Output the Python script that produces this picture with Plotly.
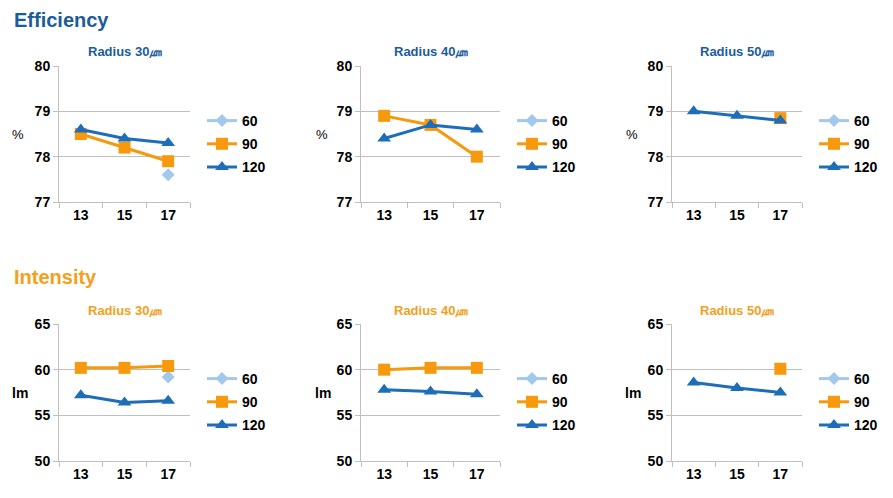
import plotly.graph_objects as go

# ---- data ----
categories = ["13", "15", "17"]
series_names = ["60", "90", "120"]
radius_labels = ["Radius 30㎛", "Radius 40㎛", "Radius 50㎛"]

eff_r30_60 = [None, None, 77.6]
eff_r30_90 = [78.5, 78.2, 77.9]
eff_r30_120 = [78.6, 78.4, 78.3]

eff_r40_60 = [None, None, None]
eff_r40_90 = [78.9, 78.7, 78.0]
eff_r40_120 = [78.4, 78.7, 78.6]

eff_r50_60 = [None, None, None]
eff_r50_90 = [None, None, 78.85]
eff_r50_120 = [79.0, 78.9, 78.8]

int_r30_60 = [None, None, 59.2]
int_r30_90 = [60.2, 60.2, 60.4]
int_r30_120 = [57.2, 56.4, 56.6]

int_r40_60 = [None, None, None]
int_r40_90 = [60.0, 60.2, 60.2]
int_r40_120 = [57.8, 57.6, 57.3]

int_r50_60 = [None, None, None]
int_r50_90 = [None, None, 60.1]
int_r50_120 = [58.6, 58.0, 57.5]

eff_ticks = [77, 78, 79, 80]
int_ticks = [50, 55, 60, 65]

# ---- styling ----
W, H = 893, 498
C60, C90, C120 = "#A3C8EE", "#F7990C", "#1E6DB8"
BLUE_T, ORANGE_T = "#1B5C9C", "#F5A01A"
GRID = "#BFBFBF"
FONT = "Liberation Sans, Arial, sans-serif"

colors = [C60, C90, C120]
symbols = ["diamond", "square", "triangle-up"]
msizes = [10, 12, 12]

panels = [
    dict(data=[eff_r30_60, eff_r30_90, eff_r30_120], x=(59, 190), y=(66, 202), ticks=eff_ticks, title=radius_labels[0], tc=BLUE_T, ylab="%", ylx=18),
    dict(data=[eff_r40_60, eff_r40_90, eff_r40_120], x=(361, 500), y=(66, 202), ticks=eff_ticks, title=radius_labels[1], tc=BLUE_T, ylab="%", ylx=322),
    dict(data=[eff_r50_60, eff_r50_90, eff_r50_120], x=(672, 802), y=(66, 202), ticks=eff_ticks, title=radius_labels[2], tc=BLUE_T, ylab="%", ylx=632),
    dict(data=[int_r30_60, int_r30_90, int_r30_120], x=(59, 190), y=(324, 461), ticks=int_ticks, title=radius_labels[0], tc=ORANGE_T, ylab="lm", ylx=20),
    dict(data=[int_r40_60, int_r40_90, int_r40_120], x=(361, 500), y=(324, 461), ticks=int_ticks, title=radius_labels[1], tc=ORANGE_T, ylab="lm", ylx=323),
    dict(data=[int_r50_60, int_r50_90, int_r50_120], x=(672, 802), y=(324, 461), ticks=int_ticks, title=radius_labels[2], tc=ORANGE_T, ylab="lm", ylx=633),
]

fig = go.Figure()
layout = dict(width=W, height=H, margin=dict(l=0, r=0, t=0, b=0, pad=0, autoexpand=False),
              paper_bgcolor="white", plot_bgcolor="white",
              font=dict(family=FONT, color="black"))
annotations = []

for i, p in enumerate(panels):
    n = "" if i == 0 else str(i + 1)
    xa, ya = "x" + n, "y" + n
    leg = "legend" + n
    for k in range(3):
        fig.add_trace(go.Scatter(
            x=categories, y=p["data"][k], name=series_names[k],
            mode="lines+markers", xaxis=xa, yaxis=ya, legend=leg,
            legendgroup=series_names[k] + n,
            line=dict(color=colors[k], width=3),
            marker=dict(symbol=symbols[k], size=msizes[k], color=colors[k]),
            connectgaps=False, showlegend=True))
    x0, x1 = p["x"]
    y0, y1 = p["y"]
    layout["xaxis" + n] = dict(
        domain=[x0 / W, x1 / W], anchor=ya, type="category",
        categoryorder="array", categoryarray=categories, automargin=False,
        range=[-0.5, 2.5], tickson="boundaries", ticks="outside", ticklen=5,
        tickcolor=GRID, showline=True, linecolor=GRID, linewidth=1,
        showgrid=False, zeroline=False,
        tickfont=dict(size=14, family=FONT, color="black", weight="bold"))
    layout["yaxis" + n] = dict(
        domain=[1 - y1 / H, 1 - y0 / H], anchor=xa, automargin=False,
        range=[p["ticks"][0], p["ticks"][-1]], tickvals=p["ticks"],
        ticks="outside", ticklen=5, tickcolor=GRID,
        showline=True, linecolor=GRID, linewidth=1,
        showgrid=True, gridcolor=GRID, gridwidth=1, zeroline=False,
        tickfont=dict(size=14, family=FONT, color="black", weight="bold"))
    layout[leg] = dict(
        x=(x1 + 12) / W, y=1 - (y0 + 39) / H, xanchor="left", yanchor="top",
        bgcolor="rgba(0,0,0,0)", tracegroupgap=2,
        font=dict(size=14, family=FONT, color="black", weight="bold"))
    annotations.append(dict(
        text=p["title"], x=(x0 + x1) / 2 / W, y=1 - (y0 - 14) / H,
        xref="paper", yref="paper", showarrow=False, xanchor="center", yanchor="middle",
        font=dict(size=13, family=FONT, color=p["tc"], weight=600)))
    annotations.append(dict(
        text=p["ylab"], x=p["ylx"] / W, y=1 - ((y0 + y1) / 2) / H,
        xref="paper", yref="paper", showarrow=False, xanchor="center", yanchor="middle",
        font=dict(size=14 if p["ylab"] == "lm" else 13, family=FONT, color="black",
                  weight="bold" if p["ylab"] == "lm" else "normal")))

annotations.append(dict(text="Efficiency", x=12 / W, y=1 - 20 / H, xref="paper", yref="paper",
                        showarrow=False, xanchor="left", yanchor="middle",
                        font=dict(size=20, family=FONT, color=BLUE_T, weight="bold")))
annotations.append(dict(text="Intensity", x=12 / W, y=1 - 277 / H, xref="paper", yref="paper",
                        showarrow=False, xanchor="left", yanchor="middle",
                        font=dict(size=20, family=FONT, color=ORANGE_T, weight="bold")))
layout["annotations"] = annotations
fig.update_layout(**layout)
fig.write_html("out.html", config={"displayModeBar": False},
               post_script="document.body.style.margin='0';")
